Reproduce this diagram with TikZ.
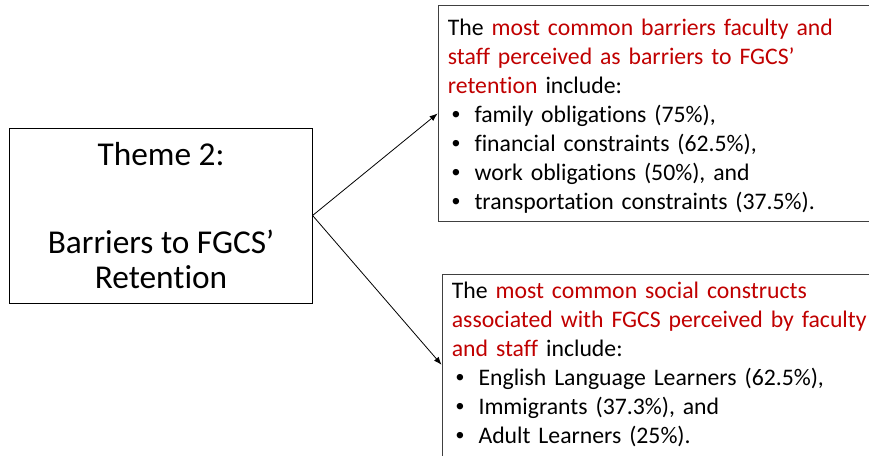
\documentclass[tikz,border=0pt]{standalone}
\usepackage{fontspec}
\setmainfont{Carlito}[Ligatures={NoCommon,NoRare,NoContextual}]
\newfontfamily\bulletfont{Liberation Sans}
\usetikzlibrary{
    arrows.meta,
    positioning
}
\definecolor{keyred}{HTML}{C00000}
\newcommand{\keyphrase}[1]{\textcolor{keyred}{#1}}
\newcommand{\bulletline}[1]{\makebox[20pt][l]{\hspace{3pt}{\bulletfont •}}#1}

\begin{document}
\begin{tikzpicture}[
    x=0.75pt, y=-0.75pt,
    every node/.style={font=\fontsize{17.8}{21.75}\selectfont},
    theme/.style={rectangle, draw, align=center, inner sep=0pt,
      minimum width=227pt, minimum height=131pt,
      font=\fontsize{25}{26.25}\selectfont},
    finding/.style={rectangle, draw=black!75, align=left,
      inner xsep=7.5pt, inner ysep=0pt},
    arrow/.style={-{Latex[length=6pt,width=4.5pt]}, line width=0.6pt}
]
\useasboundingbox (0,0) rectangle (869,456);
\clip (0,0) rectangle (869,456);

\node[theme] (theme) at (161,215.5) {Theme 2:\\[39.75pt]Barriers to FGCS’\\Retention};

\node[finding, text width=309pt, minimum height=162pt,
      right=93.75pt of theme, yshift=76.5pt] (barriers) {%
  \rule{0pt}{17pt}The \keyphrase{most common barriers faculty and}\\
  \keyphrase{staff perceived as barriers to FGCS’}\\
  \keyphrase{retention} include:\\
  \bulletline{family obligations (75\%),}\\
  \bulletline{financial constraints (62.5\%),}\\
  \bulletline{work obligations (50\%), and}\\
  \bulletline{transportation constraints (37.5\%).}};

\node[finding, text width=315pt, minimum height=136.5pt,
      right=96.75pt of theme, yshift=-112pt] (constructs) {%
  The \keyphrase{most common social constructs}\\
  \keyphrase{associated with FGCS perceived by faculty}\\
  \keyphrase{and staff} include:\\
  \bulletline{English Language Learners (62.5\%),}\\
  \bulletline{Immigrants (37.3\%), and}\\
  \bulletline{Adult Learners (25\%).}};

\draw[arrow] (theme.east) -- (barriers.west);
\draw[arrow] (theme.east) -- (constructs.west);
\end{tikzpicture}
\end{document}
